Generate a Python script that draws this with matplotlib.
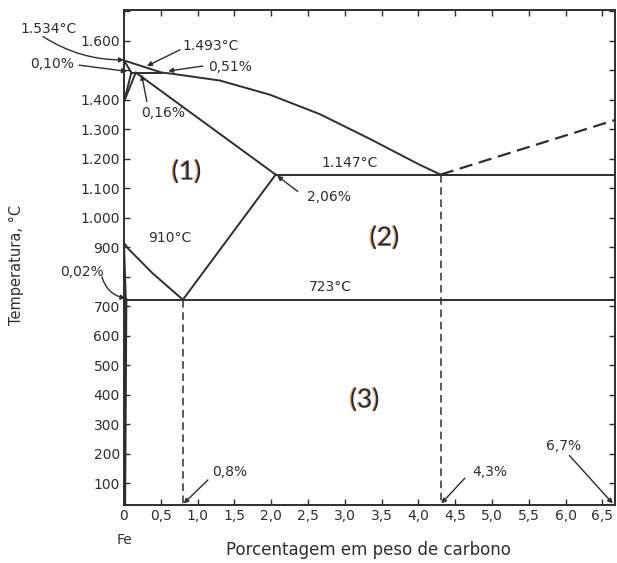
import numpy as np
import matplotlib
matplotlib.use("Agg")
import matplotlib.pyplot as plt
import matplotlib.patheffects as pe

# Fe-C diagram boundaries (wt% C, deg C)
liquidus_x = [0.0, 0.51, 0.62, 1.30, 1.98, 2.66, 3.34, 4.02, 4.3]
liquidus_t = [1534, 1493, 1490, 1466, 1418, 1352, 1268, 1180, 1147]
hyper_x = [4.3, 6.67]
hyper_t = [1147, 1332]
solidus_x = [0.16, 2.06]
solidus_t = [1493, 1147]
peritectic_x = [0.10, 0.51]
peritectic_t = [1493, 1493]
delta_x = [0.0, 0.10]
delta_t = [1534, 1493]
dg1_x = [0.10, 0.0]
dg1_t = [1493, 1394]
dg2_x = [0.16, 0.0]
dg2_t = [1493, 1394]
eutectic_x = [2.06, 6.67]
eutectic_t = [1147, 1147]
a3_x = [0.0, 0.06, 0.18, 0.39, 0.62, 0.8]
a3_t = [915, 895, 865, 812, 762, 723]
alpha_x = [0.0, 0.025]
alpha_t = [910, 723]
solvus_x = [0.025, 0.008]
solvus_t = [723, 27]
acm_x = [0.8, 2.06]
acm_t = [723, 1147]
eutectoid_x = [0.02, 6.67]
eutectoid_t = [723, 723]
v08_x = [0.8, 0.8]
v08_t = [723, 27]
v43_x = [4.3, 4.3]
v43_t = [1147, 27]

x_ticks = np.arange(0, 6.51, 0.5)
x_labels = ["0"] + [f"{v:.1f}".replace(".", ",") for v in x_ticks[1:]]
y_ticks = np.arange(100, 1701, 100)
y_labels = {100: "100", 200: "200", 300: "300", 400: "400", 500: "500",
            600: "600", 700: "700", 900: "900", 1000: "1.000", 1100: "1.100",
            1200: "1.200", 1300: "1.300", 1400: "1.400", 1600: "1.600"}

# text labels: (text, position)
labels = [
    ("1.534°C", (-1.03, 1640)),
    ("0,10%", (-0.98, 1522)),
    ("1.493°C", (1.17, 1582)),
    ("0,51%", (1.44, 1512)),
    ("0,16%", (0.53, 1356)),
    ("910°C", (0.62, 932)),
    ("0,02%", (-0.57, 817)),
    ("1.147°C", (3.07, 1188)),
    ("2,06%", (2.78, 1071)),
    ("723°C", (2.80, 766)),
    ("0,8%", (1.44, 138)),
    ("4,3%", (4.97, 138)),
    ("6,7%", (5.97, 226)),
]
# arrows: (start, end, curvature)
arrows = [
    ((-1.10, 1615), (0.0, 1536), 0.15),
    ((-0.61, 1518), (0.04, 1497), 0.0),
    ((0.76, 1570), (0.31, 1515), 0.0),
    ((1.07, 1515), (0.60, 1498), 0.0),
    ((0.31, 1395), (0.24, 1486), 0.0),
    ((-0.30, 800), (0.02, 728), 0.3),
    ((2.36, 1090), (2.08, 1143), 0.0),
    ((1.14, 112), (0.81, 32), 0.0),
    ((4.63, 118), (4.31, 32), 0.0),
    ((6.05, 195), (6.64, 32), 0.0),
]

regions = [("(1)", (0.85, 1156)), ("(2)", (3.54, 932)), ("(3)", (3.27, 383))]

ink = "#2e2e2e"
fig = plt.figure(figsize=(6.17, 5.63), dpi=100)
ax = fig.add_axes([124 / 617, 1 - 505 / 563, (615 - 124) / 617, (505 - 10) / 563])

solid = dict(color=ink, lw=1.4, solid_capstyle="round", solid_joinstyle="round")
for xs, ts in [(liquidus_x, liquidus_t), (solidus_x, solidus_t),
               (peritectic_x, peritectic_t), (delta_x, delta_t),
               (dg1_x, dg1_t), (dg2_x, dg2_t), (eutectic_x, eutectic_t),
               (a3_x, a3_t), (alpha_x, alpha_t), (acm_x, acm_t),
               (eutectoid_x, eutectoid_t)]:
    ax.plot(xs, ts, **solid)
ax.plot(solvus_x, solvus_t, color=ink, lw=2.2)
ax.plot(hyper_x, hyper_t, color=ink, lw=1.6, dashes=(6, 3))
ax.plot(v08_x, v08_t, color=ink, lw=1.1, dashes=(5, 3))
ax.plot(v43_x, v43_t, color=ink, lw=1.1, dashes=(5, 3))

ax.set_xlim(0, 6.67)
ax.set_ylim(27, 1705)
ax.set_xticks(x_ticks)
ax.set_xticklabels(x_labels)
ax.set_yticks(y_ticks)
ax.set_yticklabels([y_labels.get(int(v), "") for v in y_ticks])
ax.tick_params(direction="in", length=4, width=1.0, color=ink, labelcolor=ink,
               labelsize=10, top=True, right=True, pad=3)
for s in ax.spines.values():
    s.set_linewidth(1.4)
    s.set_color(ink)

for txt, pos in labels:
    ax.text(pos[0], pos[1], txt, ha="center", va="center", fontsize=10,
            color=ink, clip_on=False)
for start, end, rad in arrows:
    ax.annotate("", xy=end, xytext=start, annotation_clip=False,
                arrowprops=dict(arrowstyle="-|>", color=ink, lw=1.0,
                                mutation_scale=7, shrinkA=0, shrinkB=0,
                                connectionstyle=f"arc3,rad={rad}"))

for txt, pos in regions:
    ax.text(pos[0], pos[1], txt, ha="center", va="center", fontsize=19,
            family="Lato", color="#1f2a44",
            path_effects=[pe.SimplePatchShadow(offset=(-1.0, 0), shadow_rgbFace="#e89a4a",
                                               alpha=0.9), pe.Normal()])

ax.text(0, -90, "Fe", ha="center", va="center", fontsize=10, color=ink, clip_on=False)
fig.text(368 / 617, 1 - 550 / 563, "Porcentagem em peso de carbono",
         ha="center", va="center", fontsize=12, color=ink)
fig.text(16 / 617, 1 - 265 / 563, "Temperatura, °C", rotation=90,
         ha="center", va="center", fontsize=10.5, color=ink)

fig.savefig("out.png", dpi=100, facecolor="white")
